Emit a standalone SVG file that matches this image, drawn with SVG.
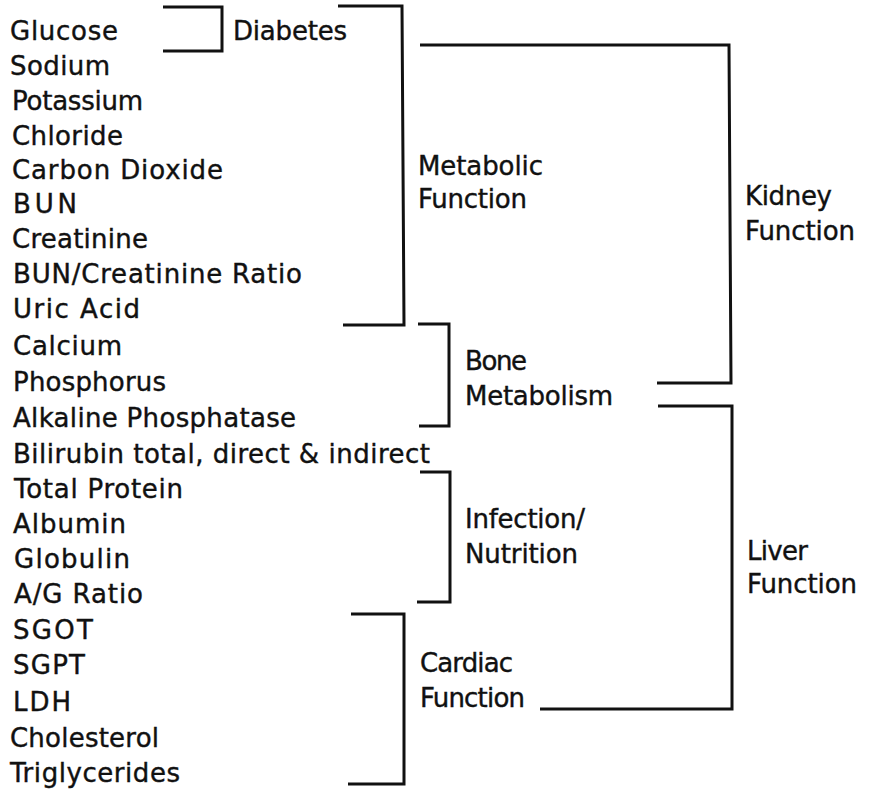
<svg xmlns="http://www.w3.org/2000/svg" width="885" height="790" viewBox="0 0 885 790">
<style>
text{font-family:"DejaVu Sans","Liberation Sans",sans-serif;font-size:26px;fill:#111;stroke:#111;stroke-width:0.4}
.br{fill:none;stroke:#111;stroke-width:3;stroke-linejoin:miter}
</style>
<rect width="885" height="790" fill="#fff"/>
<g id="tests">
<text x="10" y="40" textLength="108" lengthAdjust="spacing">Glucose</text>
<text x="10" y="75" textLength="100" lengthAdjust="spacing">Sodium</text>
<text x="12" y="110" textLength="131" lengthAdjust="spacing">Potassium</text>
<text x="12" y="145" textLength="111" lengthAdjust="spacing">Chloride</text>
<text x="12" y="179" textLength="211" lengthAdjust="spacing">Carbon Dioxide</text>
<text x="13" y="213" textLength="64" lengthAdjust="spacing">BUN</text>
<text x="12" y="248" textLength="136" lengthAdjust="spacing">Creatinine</text>
<text x="13" y="283" textLength="289" lengthAdjust="spacing">BUN/Creatinine Ratio</text>
<text x="13" y="318" textLength="127" lengthAdjust="spacing">Uric Acid</text>
<text x="13" y="355" textLength="109" lengthAdjust="spacing">Calcium</text>
<text x="13" y="391" textLength="153" lengthAdjust="spacing">Phosphorus</text>
<text x="13" y="427" textLength="283" lengthAdjust="spacing">Alkaline Phosphatase</text>
<text x="13" y="463" textLength="417" lengthAdjust="spacing">Bilirubin total, direct &amp; indirect</text>
<text x="14" y="498" textLength="169" lengthAdjust="spacing">Total Protein</text>
<text x="13" y="533" textLength="113" lengthAdjust="spacing">Albumin</text>
<text x="14" y="568" textLength="116" lengthAdjust="spacing">Globulin</text>
<text x="14" y="603" textLength="129" lengthAdjust="spacing">A/G Ratio</text>
<text x="13" y="639" textLength="80" lengthAdjust="spacing">SGOT</text>
<text x="13" y="674" textLength="72" lengthAdjust="spacing">SGPT</text>
<text x="13" y="711" textLength="58" lengthAdjust="spacing">LDH</text>
<text x="10" y="747" textLength="149" lengthAdjust="spacing">Cholesterol</text>
<text x="10" y="782" textLength="170" lengthAdjust="spacing">Triglycerides</text>
</g>
<g id="diabetes"><text x="233" y="40" textLength="114" lengthAdjust="spacing">Diabetes</text></g>
<g id="metabolic"><text x="418" y="175" textLength="125" lengthAdjust="spacing">Metabolic</text><text x="418" y="208" textLength="109" lengthAdjust="spacing">Function</text></g>
<g id="kidney"><text x="745" y="205" textLength="87" lengthAdjust="spacing">Kidney</text><text x="745" y="240" textLength="110" lengthAdjust="spacing">Function</text></g>
<g id="bone"><text x="465" y="370" textLength="62" lengthAdjust="spacing">Bone</text><text x="465" y="405" textLength="148" lengthAdjust="spacing">Metabolism</text></g>
<g id="infection"><text x="465" y="528" textLength="120" lengthAdjust="spacing">Infection/</text><text x="465" y="563" textLength="113" lengthAdjust="spacing">Nutrition</text></g>
<g id="liver"><text x="747" y="560" textLength="61" lengthAdjust="spacing">Liver</text><text x="747" y="593" textLength="110" lengthAdjust="spacing">Function</text></g>
<g id="cardiac"><text x="420" y="672" textLength="93" lengthAdjust="spacing">Cardiac</text><text x="420" y="707" textLength="105" lengthAdjust="spacing">Function</text></g>
<g id="connectors">
<path class="br" d="M163,7 H222 V51 H163"/>
<path class="br" d="M338,6 H402 L404,325 H343"/>
<path class="br" d="M420,45 H729 L731,383 H657"/>
<path class="br" d="M418,324 H449 V426 H419"/>
<path class="br" d="M420,472 H450 V602 H417"/>
<path class="br" d="M658,406 H732 V709 H540"/>
<path class="br" d="M351,614 H404 V784 H348"/>
</g>
</svg>
